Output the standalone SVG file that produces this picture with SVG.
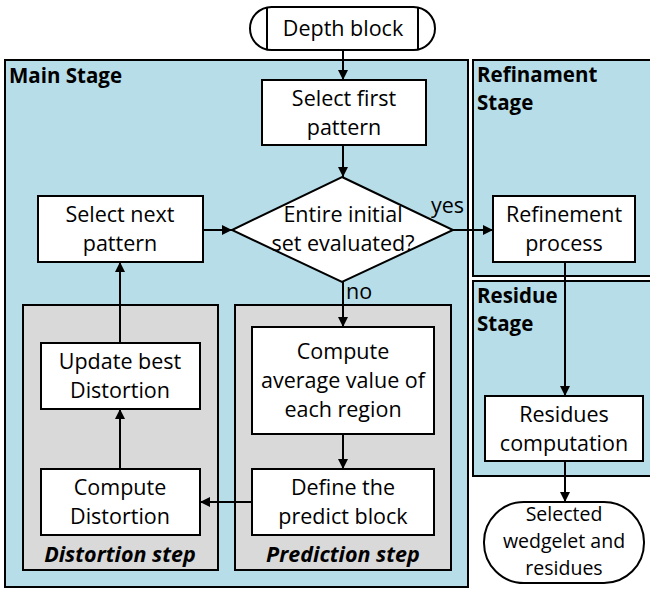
<svg xmlns="http://www.w3.org/2000/svg" width="650" height="589" viewBox="0 0 650 589">
<defs>
<marker id="ah" viewBox="0 0 10 10" refX="10" refY="5" markerWidth="10" markerHeight="10" markerUnits="userSpaceOnUse" orient="auto">
<path d="M0,0 L10,5 L0,10 Z" fill="#000"/>
</marker>
<style>
.stage{fill:#b7dde8;stroke:#000;stroke-width:2}
.step{fill:#d9d9d9;stroke:#000;stroke-width:2}
.box{fill:#fff;stroke:#000;stroke-width:2}
.t{font-family:"Open Sans",Lato,sans-serif;font-size:21.5px;fill:#000;text-anchor:middle}
.e{font-family:"Open Sans",Lato,sans-serif;font-size:19.5px;fill:#000;text-anchor:middle}
.h{font-family:"Open Sans",Lato,sans-serif;font-size:20.5px;font-weight:bold;fill:#000}
.s{font-family:"Open Sans",Lato,sans-serif;font-size:21.5px;font-weight:bold;font-style:italic;fill:#000;text-anchor:middle}
.c{fill:none;stroke:#000;stroke-width:2}
</style>
</defs>
<g id="main-stage">
<rect class="stage" x="5" y="60" width="463" height="527"/>
<text class="h" x="9" y="83">Main Stage</text>
</g>
<g id="refinement-stage">
<rect class="stage" x="473" y="60" width="180" height="216"/>
<text class="h" x="477" y="82">Refinament</text>
<text class="h" x="477" y="110">Stage</text>
</g>
<g id="residue-stage">
<rect class="stage" x="473" y="281" width="180" height="195"/>
<text class="h" x="477" y="303">Residue</text>
<text class="h" x="477" y="331">Stage</text>
</g>
<g id="distortion-step">
<rect class="step" x="23" y="305" width="195" height="265"/>
<text class="s" x="120" y="562">Distortion step</text>
</g>
<g id="prediction-step">
<rect class="step" x="235" y="305" width="216" height="265"/>
<text class="s" x="343" y="562">Prediction step</text>
</g>
<g id="depth-block">
<rect class="box" x="250" y="7" width="185" height="43" rx="21.5"/>
<line class="c" x1="267" y1="7" x2="267" y2="50"/>
<line class="c" x1="418" y1="7" x2="418" y2="50"/>
<text class="t" x="343" y="36">Depth block</text>
</g>
<g id="select-first">
<rect class="box" x="262" y="80" width="164" height="65"/>
<text class="t" x="344" y="106">Select first</text>
<text class="t" x="344" y="135">pattern</text>
</g>
<g id="decision">
<polygon class="box" points="342,177 453,230 342,282 232,230"/>
<text class="t" x="343" y="222">Entire initial</text>
<text class="t" x="343" y="251">set evaluated?</text>
</g>
<g id="select-next">
<rect class="box" x="38" y="196" width="165" height="66"/>
<text class="t" x="120" y="222">Select next</text>
<text class="t" x="120" y="251">pattern</text>
</g>
<g id="refinement-process">
<rect class="box" x="493" y="196" width="142" height="66"/>
<text class="t" x="564" y="222">Refinement</text>
<text class="t" x="564" y="251">process</text>
</g>
<g id="update-best">
<rect class="box" x="41" y="343" width="159" height="66"/>
<text class="t" x="120" y="369">Update best</text>
<text class="t" x="120" y="398">Distortion</text>
</g>
<g id="compute-distortion">
<rect class="box" x="41" y="469" width="159" height="66"/>
<text class="t" x="120" y="495">Compute</text>
<text class="t" x="120" y="524">Distortion</text>
</g>
<g id="compute-average">
<rect class="box" x="252" y="327" width="182" height="107"/>
<text class="t" x="343" y="359">Compute</text>
<text class="t" x="343" y="388">average value of</text>
<text class="t" x="343" y="417">each region</text>
</g>
<g id="define-predict">
<rect class="box" x="252" y="469" width="182" height="66"/>
<text class="t" x="343" y="495">Define the</text>
<text class="t" x="343" y="524">predict block</text>
</g>
<g id="residues-computation">
<rect class="box" x="485" y="396" width="158" height="65"/>
<text class="t" x="564" y="422">Residues</text>
<text class="t" x="564" y="451">computation</text>
</g>
<g id="selected-wedgelet">
<rect class="box" x="484" y="502" width="160" height="81" rx="40"/>
<text class="e" x="564" y="521">Selected</text>
<text class="e" x="564" y="548">wedgelet and</text>
<text class="e" x="564" y="575">residues</text>
</g>
<g id="connectors">
<line class="c" x1="343" y1="50" x2="343" y2="80" marker-end="url(#ah)"/>
<line class="c" x1="343" y1="145" x2="343" y2="177" marker-end="url(#ah)"/>
<line class="c" x1="453" y1="230" x2="493" y2="230" marker-end="url(#ah)"/>
<line class="c" x1="203" y1="230" x2="232" y2="230" marker-end="url(#ah)"/>
<line class="c" x1="343" y1="282" x2="343" y2="327" marker-end="url(#ah)"/>
<line class="c" x1="343" y1="434" x2="343" y2="469" marker-end="url(#ah)"/>
<line class="c" x1="252" y1="502" x2="200" y2="502" marker-end="url(#ah)"/>
<line class="c" x1="120" y1="469" x2="120" y2="409" marker-end="url(#ah)"/>
<line class="c" x1="120" y1="343" x2="120" y2="262" marker-end="url(#ah)"/>
<line class="c" x1="565" y1="262" x2="565" y2="396" marker-end="url(#ah)"/>
<line class="c" x1="565" y1="461" x2="565" y2="502" marker-end="url(#ah)"/>
<text class="t" x="431" y="213" style="text-anchor:start">yes</text>
<text class="t" x="346" y="299" style="text-anchor:start">no</text>
</g>
</svg>
